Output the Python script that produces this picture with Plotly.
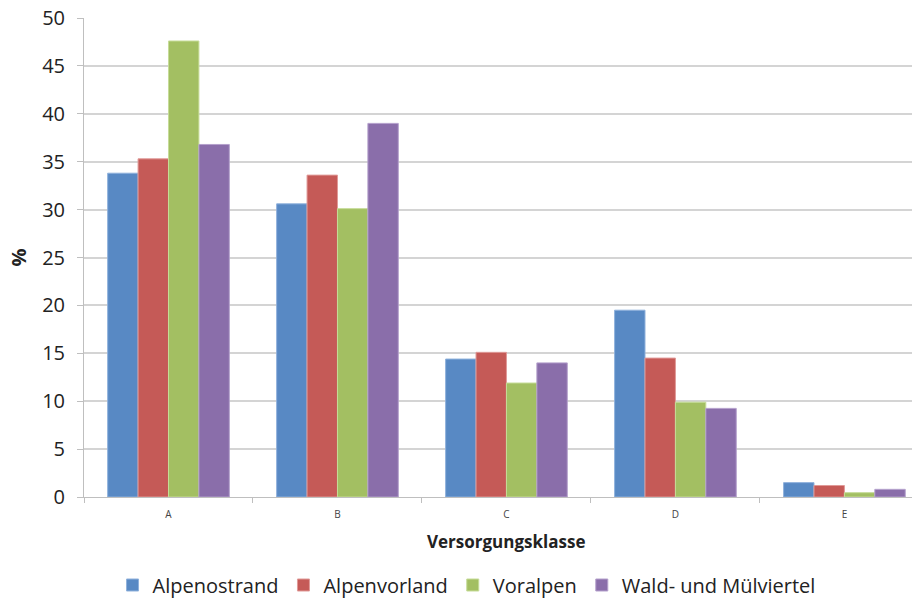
import plotly.graph_objects as go

categories = ["A", "B", "C", "D", "E"]
series_names = ["Alpenostrand", "Alpenvorland", "Voralpen", "Wald- und Mülviertel"]
alpenostrand = [33.8, 30.6, 14.4, 19.5, 1.5]
alpenvorland = [35.3, 33.6, 15.1, 14.5, 1.2]
voralpen = [47.6, 30.1, 11.9, 9.9, 0.45]
wald_muehlviertel = [36.8, 39.0, 14.0, 9.25, 0.8]
y_ticks = [0, 5, 10, 15, 20, 25, 30, 35, 40, 45, 50]

values = [alpenostrand, alpenvorland, voralpen, wald_muehlviertel]
colors = ["#5889c4", "#c55a57", "#a3bf62", "#8a6eaa"]
edges = ["#8fb1dc", "#e09a98", "#c6dc98", "#b4a0cc"]

FONT = "Open Sans"
fig = go.Figure()
for name, vals, c, e in zip(series_names, values, colors, edges):
    fig.add_trace(go.Bar(
        x=categories, y=vals, name=name,
        marker=dict(color=c, line=dict(color=e, width=1)),
    ))

fig.update_layout(
    width=912, height=600,
    margin=dict(l=84, r=0, t=18, b=103, autoexpand=False),
    paper_bgcolor="white", plot_bgcolor="white",
    barmode="group", bargap=0.28, bargroupgap=0,
    font=dict(family=FONT, color="#222222"),
    showlegend=True,
    legend=dict(orientation="h", x=0.462, xanchor="center",
                y=(497 - 585) / 479, yanchor="middle",
                font=dict(size=20, family=FONT, color="#222222"),
                itemwidth=30, tracegroupgap=0),
    xaxis=dict(
        range=[-0.5, 4.40], automargin=False,
        showline=True, linecolor="#bfbfbf", linewidth=1,
        ticks="outside", tickson="boundaries", ticklen=5, tickcolor="#bfbfbf",
        tickfont=dict(size=10, family=FONT, color="#444444"),
        ticklabelstandoff=8,
        showgrid=False, zeroline=False,
    ),
    yaxis=dict(
        range=[0, 50], tickvals=y_ticks, automargin=False,
        showline=True, linecolor="#bfbfbf", linewidth=1,
        ticks="outside", ticklen=6, tickcolor="#bfbfbf",
        tickfont=dict(size=20, family=FONT, color="#222222"),
        ticklabelstandoff=8,
        gridcolor="#d4d4d4", gridwidth=1.5, zeroline=False,
        title=dict(text="<b>%</b>", font=dict(size=20, family=FONT, color="#222222"), standoff=10),
    ),
    annotations=[dict(
        text="<b>Versorgungsklasse</b>", xref="paper", yref="paper",
        x=(506 - 84) / 828, y=(497 - 541) / 479, xanchor="center", yanchor="middle",
        showarrow=False, font=dict(size=17, family=FONT, color="#222222"),
    )],
)

fig.write_html(
    "out.html",
    config={"displayModeBar": False},
    post_script="document.body.style.margin='0';document.body.style.overflow='hidden';",
)
